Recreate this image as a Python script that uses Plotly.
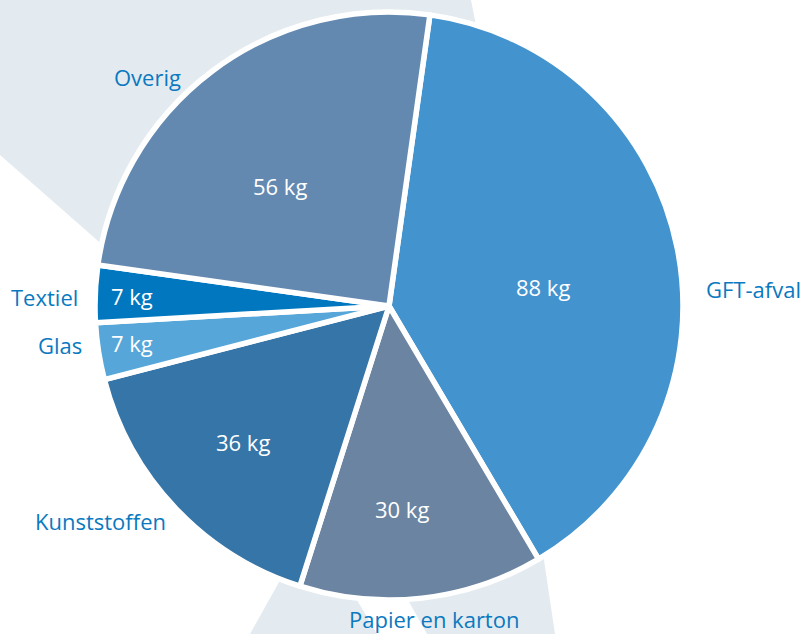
import plotly.graph_objects as go

# ---- data ----
categories = ["GFT-afval", "Papier en karton", "Kunststoffen", "Glas", "Textiel", "Overig"]
values_kg = [88, 30, 36, 7, 7, 56]

# ---- styles ----
slice_colors = ["#4393cf", "#6a84a2", "#3575a8", "#56a6d9", "#0077bf", "#6389b1"]
label_color = "#0a79c0"
bg_shape_color = "#e4ebf0"
FONT = "Open Sans"
FS = 22
W, H = 806, 634

# label positions in pixels (layout styling)
outer_label_pos = [(753, 289), (434, 619), (100, 521), (60, 345), (44, 297), (147, 77)]
inner_label_pos = [(543, 287), (402, 509), (243, 442), (132, 343), (132, 296), (280, 186)]

def px(x, y):
    return x / W, 1 - y / H

def path(points):
    pts = [px(x, y) for x, y in points]
    return "M " + " L ".join(f"{a:.5f},{b:.5f}" for a, b in pts) + " Z"

shapes = [
    dict(type="path", xref="paper", yref="paper", layer="below",
         path=path([(0, 0), (471, 0), (478, 35), (389, 306), (130, 269), (0, 155)]),
         fillcolor=bg_shape_color, line=dict(width=0)),
    dict(type="path", xref="paper", yref="paper", layer="below",
         path=path([(300, 520), (283, 575), (250, 634), (377, 634), (357, 600), (389, 306)]),
         fillcolor=bg_shape_color, line=dict(width=0)),
    dict(type="path", xref="paper", yref="paper", layer="below",
         path=path([(389, 306), (408, 600), (427, 634), (555, 634), (541, 540)]),
         fillcolor=bg_shape_color, line=dict(width=0)),
]

fig = go.Figure(go.Pie(
    labels=categories,
    values=values_kg,
    sort=False,
    direction="clockwise",
    rotation=8,
    marker=dict(colors=slice_colors, line=dict(color="white", width=5.5)),
    textinfo="none",
    hoverinfo="label+value",
    showlegend=False,
    domain=dict(x=[95 / W, 683 / W], y=[34 / H, 622 / H]),
))

annotations = []
for name, v, (ox, oy), (ix, iy) in zip(categories, values_kg, outer_label_pos, inner_label_pos):
    x, y = px(ox, oy)
    annotations.append(dict(x=x, y=y, xref="paper", yref="paper", text=name, showarrow=False,
                            xanchor="center", yanchor="middle",
                            font=dict(family=FONT, size=FS, color=label_color)))
    x, y = px(ix, iy)
    annotations.append(dict(x=x, y=y, xref="paper", yref="paper", text=f"{v} kg", showarrow=False,
                            xanchor="center", yanchor="middle",
                            font=dict(family=FONT, size=FS, color="white")))

fig.update_layout(
    width=W, height=H,
    margin=dict(l=0, r=0, t=0, b=0),
    paper_bgcolor="white", plot_bgcolor="white",
    shapes=shapes,
    annotations=annotations,
)

fig.write_html("out.html", config={"displayModeBar": False},
               post_script="document.body.style.margin='0';document.body.style.overflow='hidden';")
